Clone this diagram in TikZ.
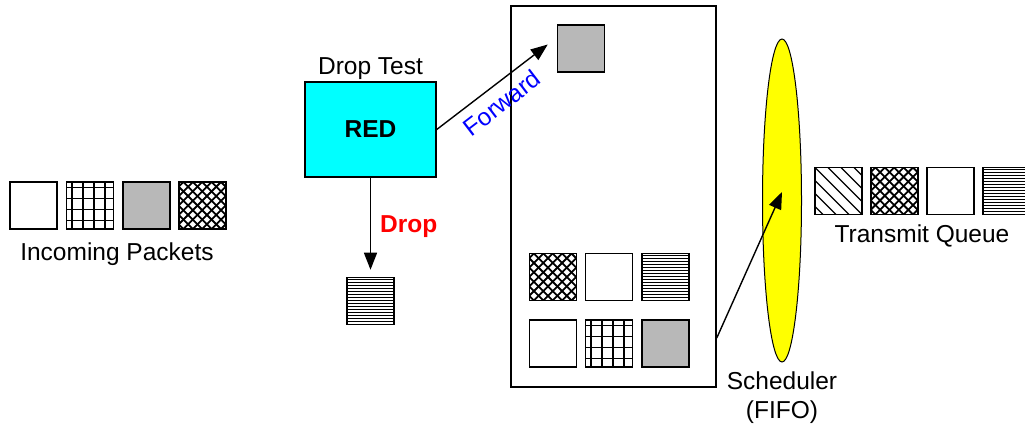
\documentclass[tikz,border=0pt]{standalone}
\usepackage{fontspec}
\setmainfont{Liberation Sans}
\usetikzlibrary{arrows.meta,shapes.geometric}

\definecolor{boxcyan}{RGB}{0,255,255}
\definecolor{ovalyellow}{RGB}{255,255,0}
\definecolor{fwdblue}{RGB}{0,0,255}
\definecolor{dropred}{RGB}{255,0,0}
\definecolor{pktgray}{RGB}{184,184,184}

\newcommand{\txtsize}{\fontsize{24.5}{28}\selectfont}

\tikzset{
  pkt/.style={draw, line width=1.5, minimum size=47, inner sep=0, fill=white},
  % square lattice of thick lines
  gridpkt/.style={pkt, path picture={
    \foreach \k in {5.5,16.5,27.5,38.5} {
      \draw[line width=1.7] ([shift={(\k,-5)}]path picture bounding box.north west) -- ++(0,60);
      \draw[line width=1.7] ([shift={(-5,\k)}]path picture bounding box.north west) -- ++(60,0);
    }}},
  % diamond cross-hatch
  crosspkt/.style={pkt, path picture={
    \foreach \c in {-52,-42.6,...,100} {
      \draw[line width=1.8] ([shift={(\c,0)}]path picture bounding box.north west) -- ++(50,50);
      \draw[line width=1.8] ([shift={(\c,0)}]path picture bounding box.north west) -- ++(-50,50);
    }}},
  % fine horizontal rules
  hlinepkt/.style={pkt, path picture={
    \foreach \k in {2,5,...,46} {
      \draw[line width=0.7] ([shift={(-5,\k)}]path picture bounding box.north west) -- ++(60,0);
    }}},
  % wide diagonal stripes
  diagpkt/.style={pkt, path picture={
    \foreach \c in {-52,-39,...,50} {
      \draw[line width=1.3] ([shift={(\c,0)}]path picture bounding box.north west) -- ++(50,50);
    }}},
  graypkt/.style={pkt, fill=pktgray},
  lbl/.style={font=\txtsize, inner sep=0},
  arr/.style={line width=1.4, -{Triangle[length=17pt,width=13pt]}},
}

\begin{document}
\begin{tikzpicture}[x=1pt, y=-1pt]
\useasboundingbox (0,0) rectangle (1025,427);

% incoming packets
\node[pkt]      (in1) at (33.5,205.5) {};
\node[gridpkt]  (in2) at (90,205.5) {};
\node[graypkt]  (in3) at (146.5,205.5) {};
\node[crosspkt] (in4) at (202.5,205.5) {};
\node[lbl, anchor=base] (inlbl) at (117,261) {Incoming Packets};

% RED drop test
\node[draw, line width=1.5, fill=boxcyan, minimum width=131, minimum height=95, inner sep=0,
      font=\txtsize\bfseries] (red) at (370.5,129.5) {RED};
\node[lbl, anchor=base] (droptest) at (370.5,75) {Drop Test};

% dropped packet
\node[hlinepkt] (dropped) at (370.5,301) {};
\draw[arr] (red.south) -- ([yshift=7]dropped.north);
\node[lbl, anchor=base west, text=dropred, font=\txtsize\bfseries] (droplbl) at (380,233) {Drop};

% buffer
\node[draw, line width=1.5, minimum width=205, minimum height=381, inner sep=0] (buf) at (613.5,196.5) {};
\node[graypkt]  (top)  at (581,48.5) {};
\node[crosspkt] (b11)  at (553,277) {};
\node[pkt]      (b12)  at (609,277) {};
\node[hlinepkt] (b13)  at (665.5,277) {};
\node[pkt]      (b21)  at (553,343.5) {};
\node[gridpkt]  (b22)  at (609,343.5) {};
\node[graypkt]  (b23)  at (665.5,343.5) {};

\draw[arr] (red.east) -- ([shift={(-9,-4)}]top.west)
  node[pos=0.485, sloped, below=8.7pt, lbl, text=fwdblue] (fwdlbl) {Forward};

% scheduler
\node[ellipse, draw, line width=1, fill=ovalyellow, minimum width=39, minimum height=323, inner sep=0] (sched) at (782,200.5) {};
\draw[arr] ([yshift=-141.5]buf.east) -- ([yshift=8.5]sched.center);
\node[lbl, anchor=base] (schedlbl) at (782,389) {Scheduler};
\node[lbl, anchor=base] (fifolbl)  at (782,418) {(FIFO)};

% transmit queue
\node[diagpkt]  (tx1) at (838.5,191) {};
\node[crosspkt] (tx2) at (894.5,191) {};
\node[pkt]      (tx3) at (950.5,191) {};
\node[hlinepkt] (tx4) at (1006.5,191) {};
\node[lbl, anchor=base] (txlbl) at (922,243) {Transmit Queue};
\end{tikzpicture}
\end{document}
